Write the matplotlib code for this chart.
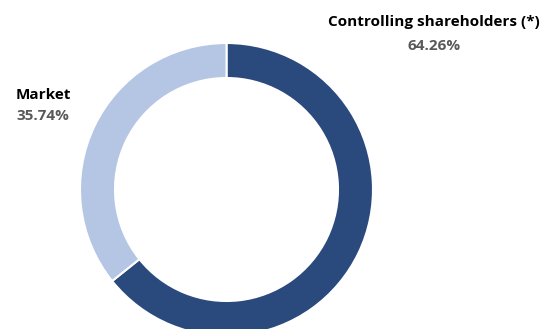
import matplotlib.pyplot as plt

# Datos
labels = ['Controlling shareholders (*)', 'Market']
shares = [64.26, 35.74]
colors = ['#2A4A7D', '#B4C6E4']

W, H = 542, 329
fig = plt.figure(figsize=(W / 100, H / 100), dpi=100)
ax = fig.add_axes([0, 0, 1, 1])

ax.pie(shares, colors=colors, startangle=90, counterclock=False,
       center=(226.5, H - 189.5), radius=146.5,
       wedgeprops=dict(width=35, edgecolor='white', linewidth=1.5))

ax.set_xlim(0, W)
ax.set_ylim(0, H)
ax.set_aspect('equal')
ax.axis('off')

# Etiquetas
font = ['Open Sans', 'DejaVu Sans']
ax.text(434, H - 22, labels[0], ha='center', va='center', fontsize=11,
        fontweight='bold', color='black', family=font)
ax.text(434, H - 46, f'{shares[0]:.2f}%', ha='center', va='center', fontsize=11,
        fontweight='bold', color='#595959', family=font)
ax.text(43, H - 95, labels[1], ha='center', va='center', fontsize=11,
        fontweight='bold', color='black', family=font)
ax.text(43, H - 116, f'{shares[1]:.2f}%', ha='center', va='center', fontsize=11,
        fontweight='bold', color='#595959', family=font)

fig.savefig('out.png', dpi=100)
